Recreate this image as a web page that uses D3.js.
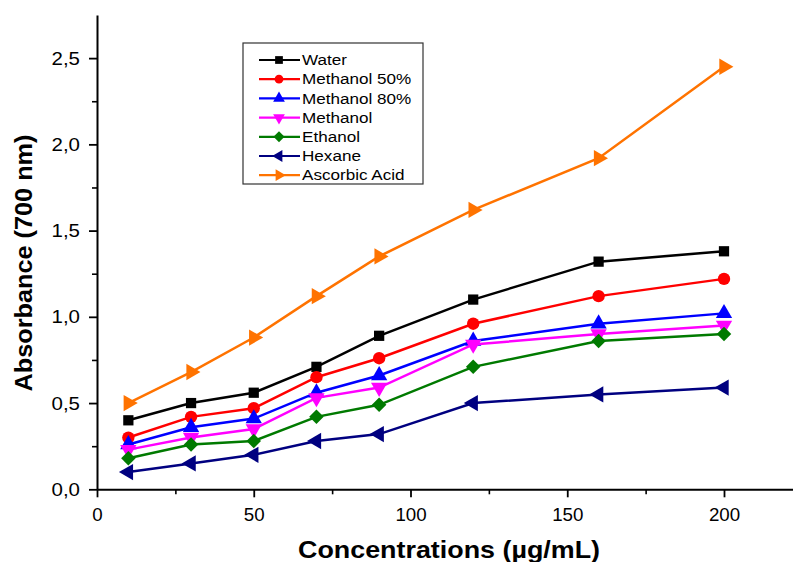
<!DOCTYPE html>
<html>
<head>
<meta charset="utf-8">
<script src="https://cdn.jsdelivr.net/npm/d3@7"></script>
<style>
  body { margin: 0; background: #fff; }
  svg { display: block; font-family: "Liberation Sans", Arial, sans-serif; }
  .tick text { font-size: 17.5px; fill: #000; }
  .axis_label { font-size: 24px; font-weight: bold; fill: #000; }
  .legend text { font-size: 15px; fill: #000; }
</style>
</head>
<body>
<div id="chart"></div>
<script>
// chart size
const width = 793; const height = 562;
const margin = {top: 15, left: 97};

// data
const concentrations = [10, 30, 50, 70, 90, 120, 160, 200];
const seriesNames = ['Water', 'Methanol 50%', 'Methanol 80%', 'Methanol', 'Ethanol', 'Hexane', 'Ascorbic Acid'];
const water       = [0.40, 0.50, 0.56, 0.71, 0.89, 1.10, 1.32, 1.38];
const methanol50  = [0.30, 0.42, 0.47, 0.65, 0.76, 0.96, 1.12, 1.22];
const methanol80  = [0.26, 0.36, 0.41, 0.56, 0.66, 0.86, 0.96, 1.02];
const methanol    = [0.23, 0.30, 0.35, 0.53, 0.59, 0.84, 0.90, 0.95];
const ethanol     = [0.18, 0.26, 0.28, 0.42, 0.49, 0.71, 0.86, 0.90];
const hexane      = [0.10, 0.15, 0.20, 0.28, 0.32, 0.50, 0.55, 0.59];
const ascorbic    = [0.50, 0.68, 0.88, 1.12, 1.35, 1.62, 1.92, 2.45];
const xTicks = [0, 50, 100, 150, 200];
const yTicks = [0, 0.5, 1.0, 1.5, 2.0, 2.5];

const seriesValues = [water, methanol50, methanol80, methanol, ethanol, hexane, ascorbic];
const colors = ['#000000', '#ff0000', '#0000ff', '#ff00ff', '#007a00', '#000080', '#ff7300'];
// marker shape + rotation for each series
const shapes = [
    {type: d3.symbolSquare, rot: 0},
    {type: d3.symbolCircle, rot: 0},
    {type: d3.symbolTriangle, rot: 0},
    {type: d3.symbolTriangle, rot: 180},
    {type: d3.symbolSquare, rot: 45},
    {type: d3.symbolTriangle, rot: -90},
    {type: d3.symbolTriangle, rot: 90}
];

const series = seriesNames.map((name, i) => ({
    name: name,
    color: colors[i],
    shape: shapes[i],
    points: concentrations.map((c, j) => ({x: c, y: seriesValues[i][j]}))
}));

const svg = d3.select('#chart')
    .append('svg')
        .attr('width', width)
        .attr('height', height);

const xScale = d3.scaleLinear()
    .domain([0, 225])
    .range([margin.left, margin.left + 225 * 3.135]);
const yScale = d3.scaleLinear()
    .domain([0, 2.75])
    .range([489.3, margin.top]);

// minor ticks first
svg.append('g')
    .attr('transform', `translate(0, ${yScale(0)})`)
    .call(d3.axisBottom(xScale).tickValues(d3.range(25, 226, 50)).tickSize(5).tickFormat(''))
    .call(g => g.select('.domain').remove())
    .selectAll('line').attr('stroke-width', 1.6);
svg.append('g')
    .attr('transform', `translate(${xScale(0)}, 0)`)
    .call(d3.axisLeft(yScale).tickValues([0.25, 0.75, 1.25, 1.75, 2.25]).tickSize(5).tickFormat(''))
    .call(g => g.select('.domain').remove())
    .selectAll('line').attr('stroke-width', 1.6);

// x axis
const xAxisG = svg.append('g')
    .attr('transform', `translate(0, ${yScale(0)})`)
    .call(d3.axisBottom(xScale).tickValues(xTicks).tickSize(8).tickSizeOuter(0).tickPadding(11));
xAxisG.select('.domain').attr('stroke-width', 2);
xAxisG.selectAll('.tick line').attr('stroke-width', 1.8);
xAxisG.selectAll('.tick text')
    .attr('transform', 'scale(1.07,1)');

// y axis
const yAxisG = svg.append('g')
    .attr('transform', `translate(${xScale(0)}, 0)`)
    .call(d3.axisLeft(yScale).tickValues(yTicks).tickSize(8).tickSizeOuter(0).tickPadding(9)
        .tickFormat(d => d3.format('.1f')(d).replace('.', ',')));
yAxisG.select('.domain').attr('stroke-width', 2);
yAxisG.selectAll('.tick line').attr('stroke-width', 1.8);
yAxisG.selectAll('.tick text')
    .attr('x', -17 / 1.17)
    .attr('dy', '0.35em')
    .attr('transform', 'scale(1.17,1)');

// axis labels
svg.append('text')
    .attr('class', 'axis_label')
    .attr('x', 449)
    .attr('y', 558)
    .attr('text-anchor', 'middle')
    .attr('textLength', 302)
    .attr('lengthAdjust', 'spacingAndGlyphs')
    .text('Concentrations (µg/mL)');
svg.append('text')
    .attr('class', 'axis_label')
    .attr('transform', `translate(32, 263) rotate(-90)`)
    .attr('text-anchor', 'middle')
    .attr('textLength', 257)
    .attr('lengthAdjust', 'spacingAndGlyphs')
    .text('Absorbance (700 nm)');

// lines
const line = d3.line()
    .x(d => xScale(d.x))
    .y(d => yScale(d.y));

const seriesG = svg.selectAll('.series')
    .data(series)
    .enter()
    .append('g')
        .attr('class', 'series');

seriesG.append('path')
    .attr('d', d => line(d.points))
    .attr('fill', 'none')
    .attr('stroke', d => d.color)
    .attr('stroke-width', 2.5);

seriesG.each(function(s) {
    d3.select(this).selectAll('path.marker')
        .data(s.points)
        .enter()
        .append('path')
            .attr('class', 'marker')
            .attr('d', d3.symbol().type(s.shape.type).size(s.shape.type === d3.symbolCircle ? 120 : (s.shape.type === d3.symbolSquare ? 105 : 115)))
            .attr('transform', d => `translate(${xScale(d.x)}, ${yScale(d.y)}) rotate(${s.shape.rot})`)
            .attr('fill', s.color);
});

// legend
const legend = svg.append('g').attr('class', 'legend');
legend.append('rect')
    .attr('x', 243)
    .attr('y', 43)
    .attr('width', 180)
    .attr('height', 141)
    .attr('fill', '#fff')
    .attr('stroke', '#333')
    .attr('stroke-width', 1.2);

const legendRow = legend.selectAll('.row')
    .data(series)
    .enter()
    .append('g')
        .attr('class', 'row')
        .attr('transform', (d, i) => `translate(0, ${60 + i * 19.2})`);
legendRow.append('line')
    .attr('x1', 259).attr('x2', 300)
    .attr('y1', 0).attr('y2', 0)
    .attr('stroke', d => d.color)
    .attr('stroke-width', 2.2);
legendRow.append('path')
    .attr('d', d => d3.symbol().type(d.shape.type).size(60)())
    .attr('transform', d => `translate(279, 0) rotate(${d.shape.rot})`)
    .attr('fill', d => d.color);
legendRow.append('text')
    .attr('transform', 'translate(302, 0) scale(1.14,1)')
    .attr('dy', '0.35em')
    .text(d => d.name);
</script>
</body>
</html>
